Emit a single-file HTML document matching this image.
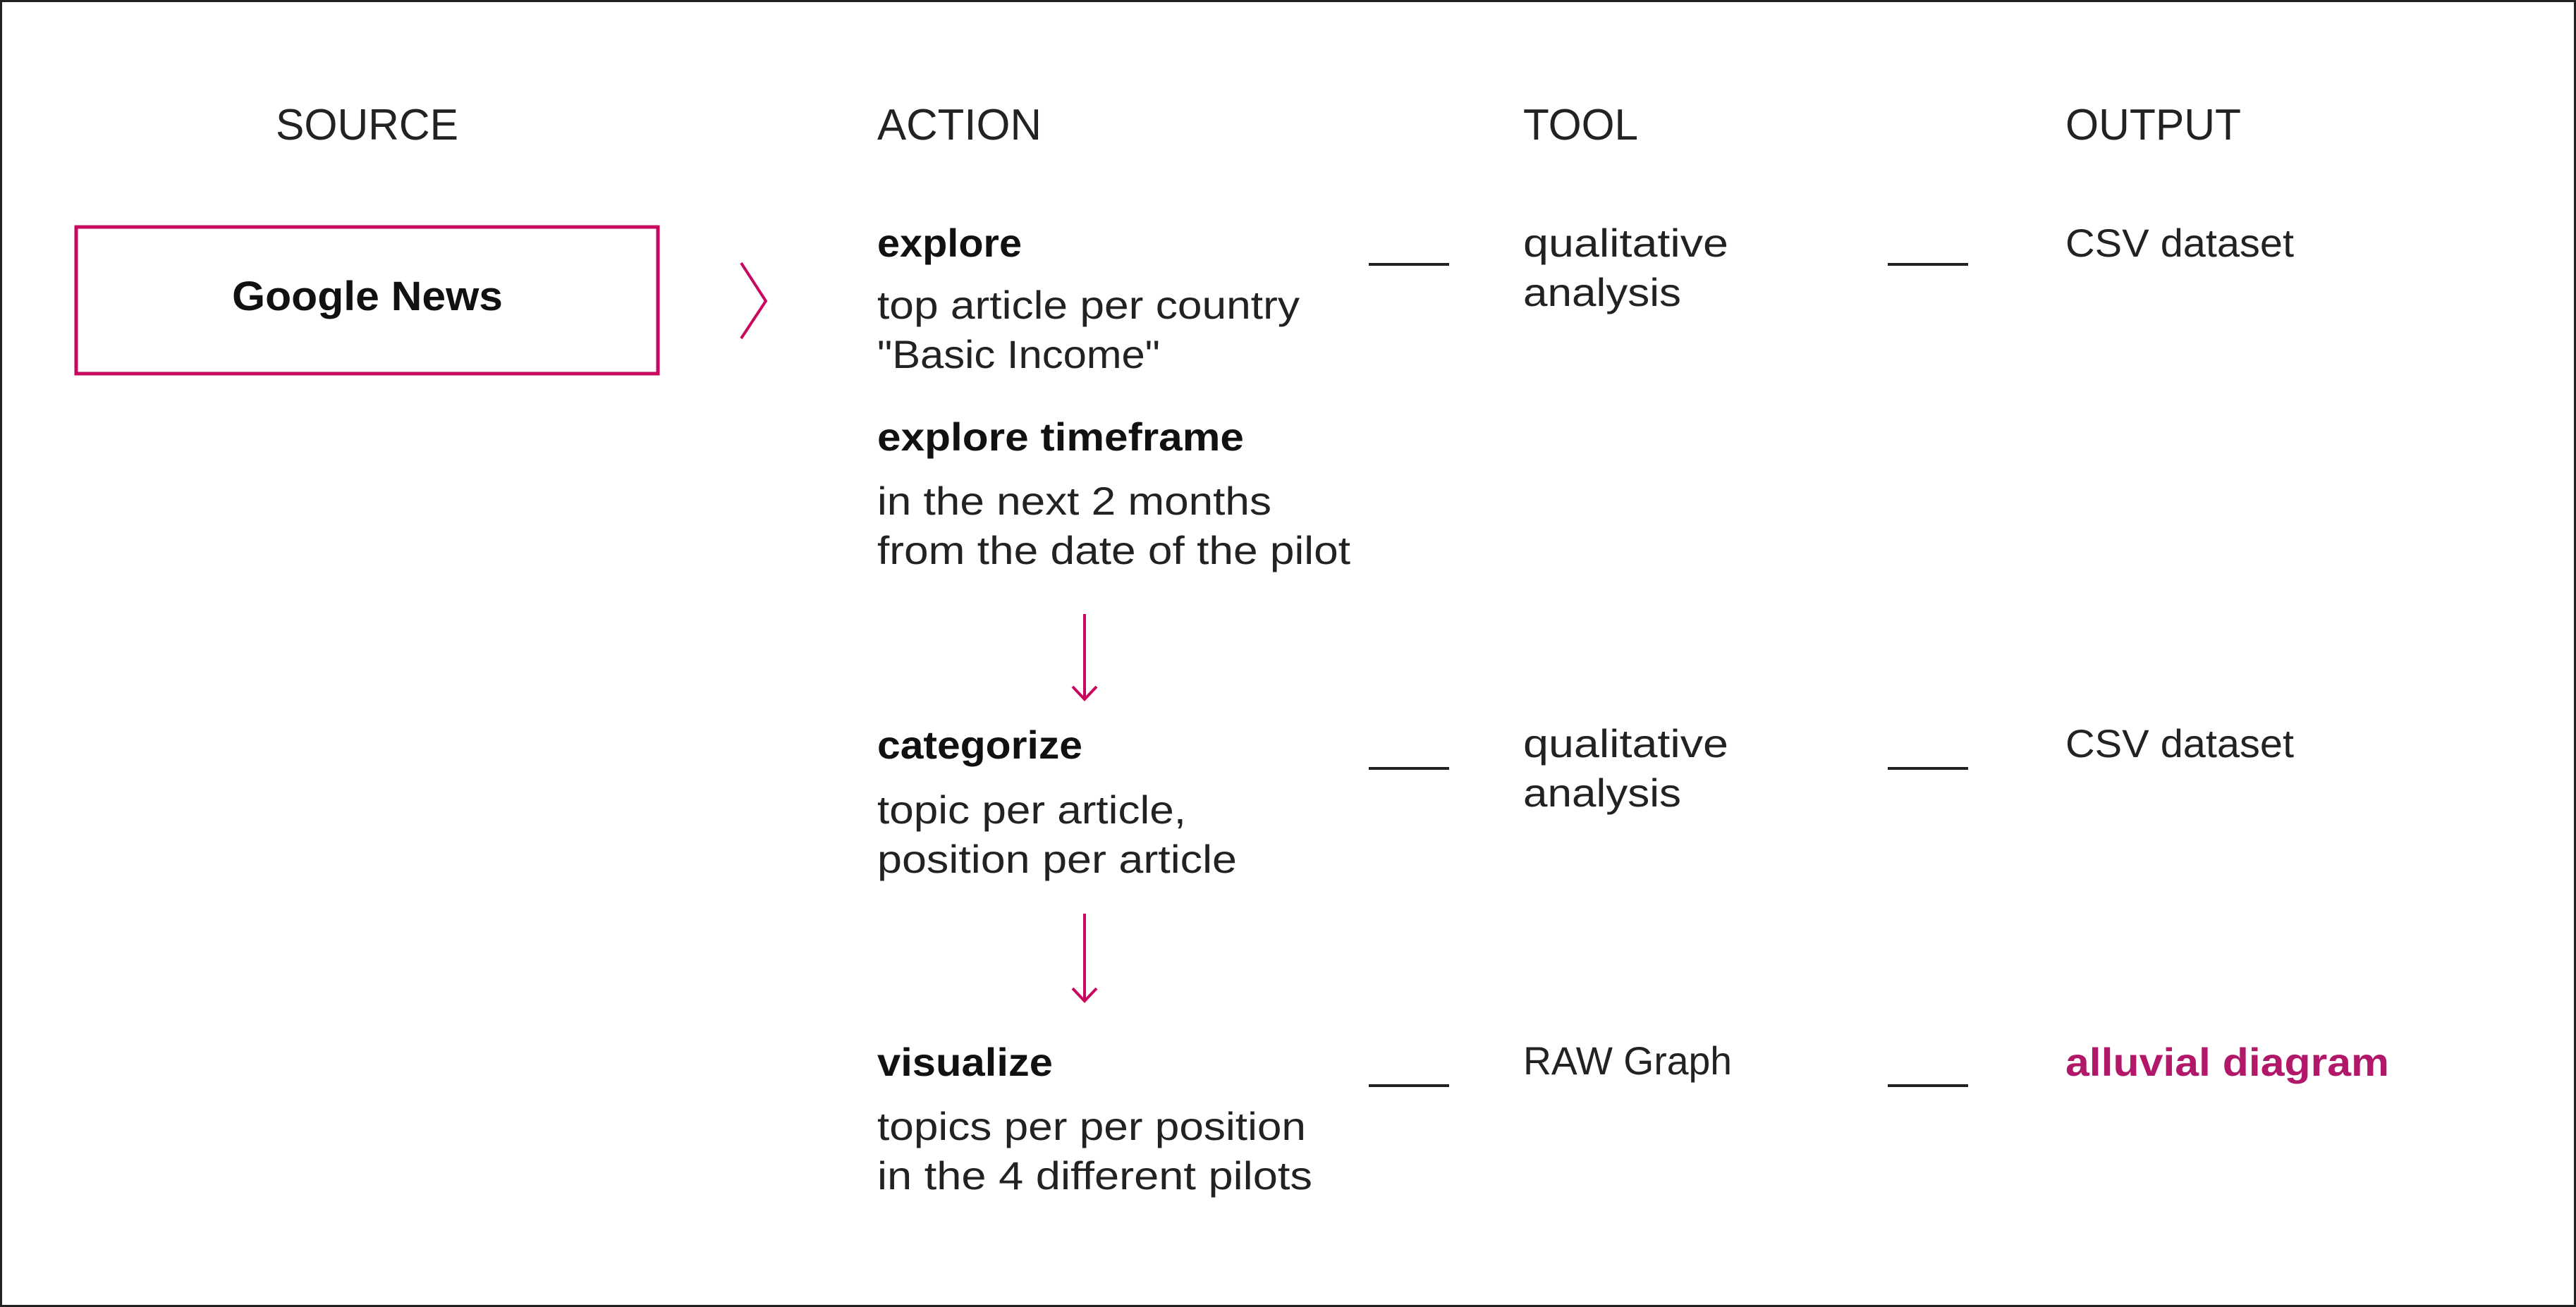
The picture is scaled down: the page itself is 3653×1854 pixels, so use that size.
<!DOCTYPE html>
<html><head><meta charset="utf-8"><style>html,body{margin:0;padding:0;background:#fff}svg{display:block}</style></head>
<body>
<svg width="3653" height="1854" viewBox="0 0 3653 1854" xmlns="http://www.w3.org/2000/svg" font-family="Liberation Sans, sans-serif">
<rect x="1.5" y="1.5" width="3650" height="1851" fill="#fff" stroke="#222" stroke-width="3"/>
<g fill="#222" font-size="62">
<text x="391" y="198" textLength="259" lengthAdjust="spacingAndGlyphs">SOURCE</text>
<text x="1244" y="198" textLength="233" lengthAdjust="spacingAndGlyphs">ACTION</text>
<text x="2160" y="198" textLength="163" lengthAdjust="spacingAndGlyphs">TOOL</text>
<text x="2929" y="198" textLength="249" lengthAdjust="spacingAndGlyphs">OUTPUT</text>
</g>
<rect x="108" y="322" width="825" height="208" fill="none" stroke="#c8075f" stroke-width="5"/>
<text x="329" y="440" font-size="58" font-weight="bold" fill="#111" textLength="384" lengthAdjust="spacingAndGlyphs">Google News</text>
<polyline points="1051,373 1086,427 1051,480" fill="none" stroke="#c8075f" stroke-width="4"/>
<g fill="#111" font-size="56" font-weight="bold">
<text x="1244" y="364" textLength="205" lengthAdjust="spacingAndGlyphs">explore</text>
<text x="1244" y="639" textLength="520" lengthAdjust="spacingAndGlyphs">explore timeframe</text>
<text x="1244" y="1076" textLength="291" lengthAdjust="spacingAndGlyphs">categorize</text>
<text x="1244" y="1526" textLength="249" lengthAdjust="spacingAndGlyphs">visualize</text>
</g>
<text x="2929" y="1526" font-size="56" font-weight="bold" fill="#b2186a" textLength="459" lengthAdjust="spacingAndGlyphs">alluvial diagram</text>
<g fill="#222" font-size="56">
<text x="1244" y="452" textLength="599" lengthAdjust="spacingAndGlyphs">top article per country</text>
<text x="1244" y="522" textLength="401" lengthAdjust="spacingAndGlyphs">"Basic Income"</text>
<text x="1244" y="730" textLength="559" lengthAdjust="spacingAndGlyphs">in the next 2 months</text>
<text x="1244" y="800" textLength="671" lengthAdjust="spacingAndGlyphs">from the date of the pilot</text>
<text x="1244" y="1168" textLength="438" lengthAdjust="spacingAndGlyphs">topic per article,</text>
<text x="1244" y="1238" textLength="510" lengthAdjust="spacingAndGlyphs">position per article</text>
<text x="1244" y="1617" textLength="608" lengthAdjust="spacingAndGlyphs">topics per per position</text>
<text x="1244" y="1687" textLength="617" lengthAdjust="spacingAndGlyphs">in the 4 different pilots</text>
<text x="2160" y="364" textLength="291" lengthAdjust="spacingAndGlyphs">qualitative</text>
<text x="2160" y="434" textLength="224" lengthAdjust="spacingAndGlyphs">analysis</text>
<text x="2160" y="1074" textLength="291" lengthAdjust="spacingAndGlyphs">qualitative</text>
<text x="2160" y="1144" textLength="224" lengthAdjust="spacingAndGlyphs">analysis</text>
<text x="2160" y="1524" textLength="296" lengthAdjust="spacingAndGlyphs">RAW Graph</text>
<text x="2929" y="364" textLength="324" lengthAdjust="spacingAndGlyphs">CSV dataset</text>
<text x="2929" y="1074" textLength="324" lengthAdjust="spacingAndGlyphs">CSV dataset</text>
</g>
<g stroke="#222" stroke-width="4">
<line x1="1941" y1="375" x2="2055" y2="375"/>
<line x1="2677" y1="375" x2="2791" y2="375"/>
<line x1="1941" y1="1090" x2="2055" y2="1090"/>
<line x1="2677" y1="1090" x2="2791" y2="1090"/>
<line x1="1941" y1="1540" x2="2055" y2="1540"/>
<line x1="2677" y1="1540" x2="2791" y2="1540"/>
</g>
<g stroke="#c8075f" stroke-width="4" fill="none">
<line x1="1538" y1="871" x2="1538" y2="992"/>
<polyline points="1521,974 1538,992 1555,974"/>
<line x1="1538" y1="1296" x2="1538" y2="1420"/>
<polyline points="1521,1402 1538,1420 1555,1402"/>
</g>
</svg>
</body></html>
